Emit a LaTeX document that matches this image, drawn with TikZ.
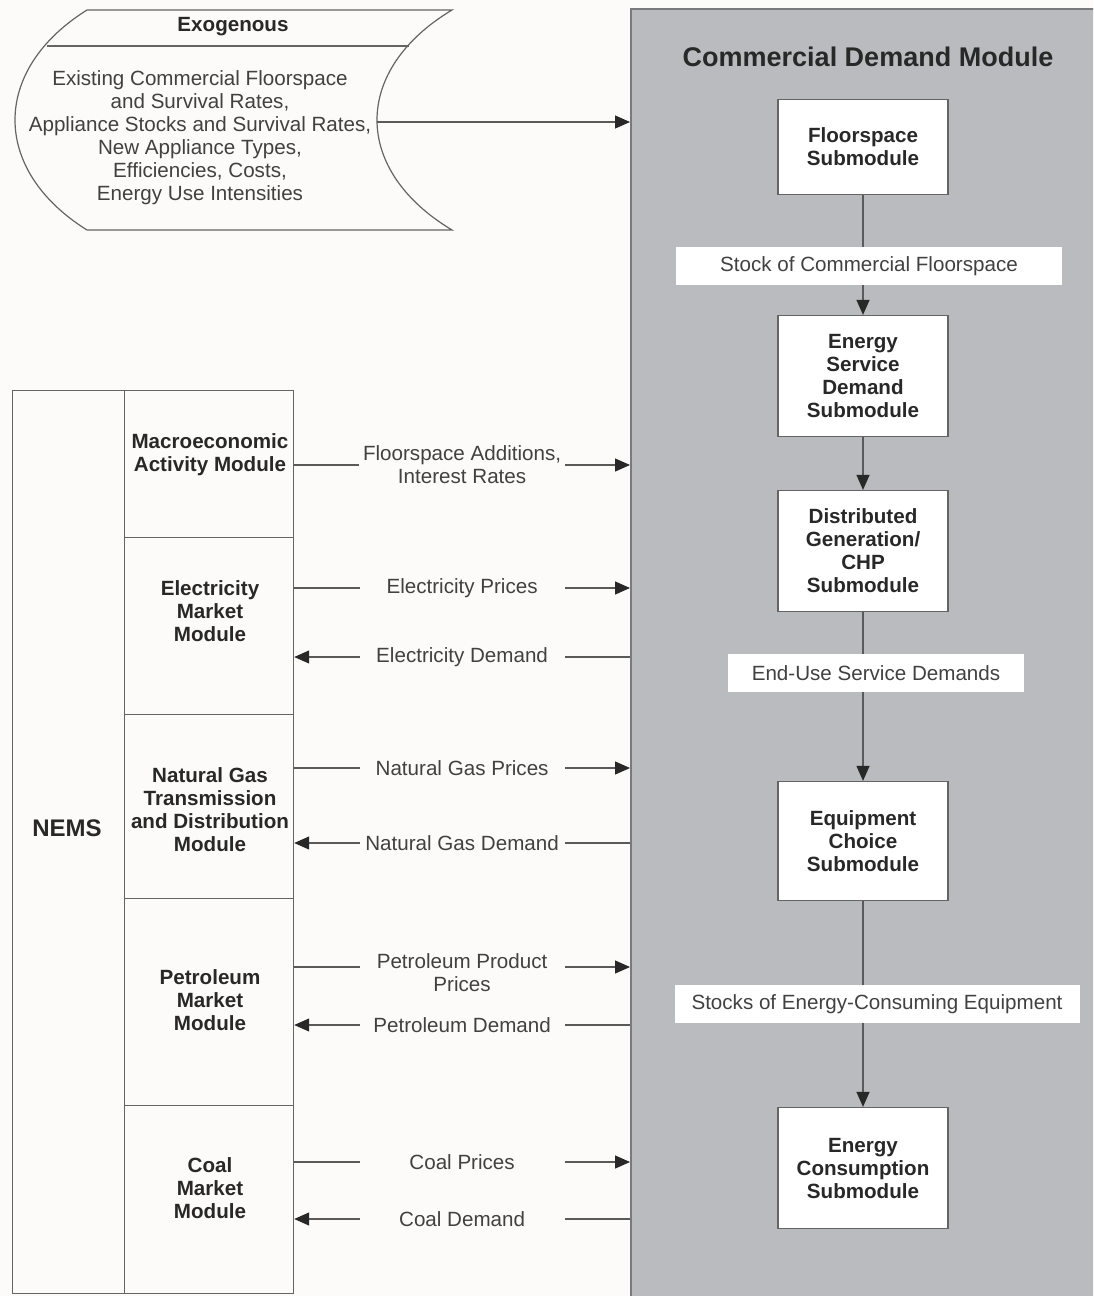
\documentclass[tikz,border=0pt]{standalone}
\usepackage{fontspec}
\setmainfont{Liberation Sans}
\usetikzlibrary{arrows.meta,positioning}

\definecolor{panelgray}{RGB}{185,187,190}
\definecolor{paneledge}{RGB}{120,122,125}
\definecolor{boxedge}{RGB}{100,100,100}
\definecolor{inkdark}{RGB}{40,40,40}
\definecolor{inkgray}{RGB}{65,65,65}
\definecolor{linegray}{RGB}{90,90,90}
\definecolor{paper}{RGB}{252,251,249}

\newcommand{\bodyfont}{\fontsize{10.3}{11.5}\selectfont}

\tikzset{
  cellbox/.style={draw=boxedge, line width=0.6pt, fill=paper, minimum width=84.5pt, anchor=north west, inner sep=0pt},
  celltext/.style={align=center, font=\bfseries\bodyfont, text=inkdark},
  submod/.style={draw=boxedge, line width=0.6pt, fill=white, minimum width=85pt, align=center, font=\bfseries\bodyfont, text=inkdark},
  flowlbl/.style={fill=white, minimum height=19pt, inner sep=0pt, font=\bodyfont, text=inkgray},
  armlbl/.style={fill=paper, minimum width=102.5pt, inner sep=2pt, align=center, font=\bodyfont, text=inkgray},
  link/.style={draw=linegray, line width=0.6pt, -{Triangle[length=7.5pt,width=6.5pt,color=inkdark]}}
}

\begin{document}
\begin{tikzpicture}[x=0.5pt, y=-0.5pt]
\clip (0,0) rectangle (1093,1296);
\fill[paper] (0,0) rectangle (1093,1296);

% Commercial demand panel
\node[fill=panelgray, draw=paneledge, line width=0.8pt, anchor=north west,
      minimum width=300pt, minimum height=700pt] (cdm) at (630,8) {};
\node[font=\bfseries\fontsize{13.5}{16}\selectfont, text=inkdark] (title) at (868,57) {Commercial Demand Module};

% Exogenous inputs
\draw[boxedge, line width=0.6pt, fill=paper] (87,10) -- (452,10)
  .. controls (352,70) and (352,170) .. (452,230) -- (87,230)
  .. controls (-9,170) and (-9,70) .. (87,10) -- cycle;
\draw[boxedge, line width=0.6pt] (47,46) -- (409,46);
\node[font=\bfseries\bodyfont, text=inkdark] (exohead) at (233,27) {Exogenous};
\node[align=center, font=\bodyfont, text=inkgray] (exo) at (200,138)
  {Existing Commercial Floorspace\\and Survival Rates,\\Appliance Stocks and Survival Rates,\\New Appliance Types,\\Efficiencies, Costs,\\Energy Use Intensities};
\coordinate (exoedge) at (377,122);
\draw[link] (exoedge) -- (cdm.west |- exoedge);

% NEMS column
\node[draw=boxedge, line width=0.6pt, fill=paper, anchor=north west,
      minimum width=140.5pt, minimum height=451.5pt] (nemsbox) at (12,390) {};
\node[font=\bfseries\fontsize{12}{14}\selectfont, text=inkdark] (nems) at (67,828) {NEMS};

\node[cellbox, minimum height=73.5pt] (macbox) at (124,390) {};
\node[cellbox, minimum height=88.5pt] (elebox) at (124,537) {};
\node[cellbox, minimum height=92pt] (gasbox) at (124,714) {};
\node[cellbox, minimum height=103.5pt] (petbox) at (124,898) {};
\node[cellbox, minimum height=94pt] (coalbox) at (124,1105) {};

\node[celltext] (mac) at (210,455) {Macroeconomic\\Activity Module};
\node[celltext] (ele) at (210,611) {Electricity\\Market\\Module};
\node[celltext] (gas) at (210,810) {Natural Gas\\Transmission\\and Distribution\\Module};
\node[celltext] (pet) at (210,1000) {Petroleum\\Market\\Module};
\node[celltext] (coal) at (210,1188) {Coal\\Market\\Module};

% Exchanges with NEMS
\draw[link] (macbox.east |- 0,465) -- node[armlbl] {Floorspace Additions,\\Interest Rates} (cdm.west |- 0,465);
\draw[link] (elebox.east |- 0,588) -- node[armlbl] {Electricity Prices} (cdm.west |- 0,588);
\draw[link] (cdm.west |- 0,657) -- node[armlbl] {Electricity Demand} (elebox.east |- 0,657);
\draw[link] (gasbox.east |- 0,768) -- node[armlbl] {Natural Gas Prices} (cdm.west |- 0,768);
\draw[link] (cdm.west |- 0,843) -- node[armlbl] {Natural Gas Demand} (gasbox.east |- 0,843);
\draw[link] (petbox.east |- 0,967) -- node[armlbl, yshift=-3pt] {Petroleum Product\\Prices} (cdm.west |- 0,967);
\draw[link] (cdm.west |- 0,1025) -- node[armlbl] {Petroleum Demand} (petbox.east |- 0,1025);
\draw[link] (coalbox.east |- 0,1162) -- node[armlbl] {Coal Prices} (cdm.west |- 0,1162);
\draw[link] (cdm.west |- 0,1219) -- node[armlbl] {Coal Demand} (coalbox.east |- 0,1219);

% Submodules
\node[submod, minimum height=47.5pt] (fs) at (863,147) {Floorspace\\Submodule};
\node[submod, minimum height=60.5pt] (esd) at (863,376) {Energy\\Service\\Demand\\Submodule};
\node[submod, minimum height=60.5pt] (dg) at (863,551) {Distributed\\Generation/\\CHP\\Submodule};
\node[submod, minimum height=59.5pt] (eq) at (863,841) {Equipment\\Choice\\Submodule};
\node[submod, minimum height=60.5pt] (ec) at (863,1168) {Energy\\Consumption\\Submodule};

\draw[link] (fs) -- node[flowlbl, pos=0.59, minimum width=193pt, xshift=3pt] {Stock of Commercial Floorspace} (esd);
\draw[link] (esd) -- (dg);
\draw[link] (dg) -- node[flowlbl, pos=0.36, minimum width=148pt, xshift=6.5pt] {End-Use Service Demands} (eq);
\draw[link] (eq) -- node[flowlbl, pos=0.5, minimum width=202.5pt, xshift=7pt] {Stocks of Energy-Consuming Equipment} (ec);

\end{tikzpicture}
\end{document}
